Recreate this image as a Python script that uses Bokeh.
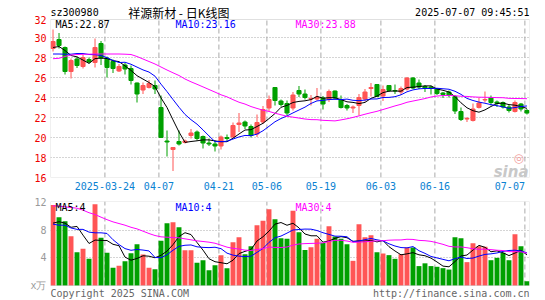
from bokeh.plotting import figure
from bokeh.layouts import column
from bokeh.models import FixedTicker, Label, Range1d, ColumnDataSource, BoxAnnotation
from bokeh.embed import file_html
from bokeh.resources import INLINE

# ---------------- data ----------------
opens = [28.9, 29.8, 29.0, 26.6, 27.85, 27.1, 27.8, 27.5, 29.4, 27.95,
         27.6, 26.65, 27.25, 26.9, 25.45, 24.75, 25.0, 25.2, 23.0, 19.65,
         18.8, 19.6, 19.5, 20.2, 20.55, 20.1, 19.45, 19.35, 19.15, 20.0,
         20.05, 21.3, 21.55, 21.1, 20.35, 21.55, 22.95, 25.0, 23.65, 23.4,
         22.95, 24.7, 24.35, 23.85, 23.85, 23.95, 23.8, 24.65, 23.8, 23.2,
         22.95, 23.2, 23.85, 24.9, 25.3, 24.15, 25.2, 24.7, 24.55, 24.85,
         25.95, 25.45, 25.1, 25.05, 24.85, 24.45, 24.55, 24.1, 22.6, 21.85,
         21.7, 23.0, 23.75, 23.95, 23.55, 23.5, 23.05, 22.6, 23.35, 22.7]
highs = [30.8, 30.45, 29.1, 27.9, 28.1, 28.25, 28.0, 29.9, 29.65, 28.1,
         27.8, 27.35, 27.45, 27.2, 25.5, 25.5, 25.75, 25.7, 24.2, 20.7,
         19.05, 20.7, 19.8, 20.85, 20.7, 20.2, 19.9, 19.7, 20.2, 20.3,
         21.5, 22.45, 21.7, 21.3, 22.3, 23.15, 24.2, 25.05, 23.8, 23.7,
         24.55, 25.15, 24.8, 24.25, 24.95, 24.15, 24.8, 24.7, 24.2, 23.35,
         23.2, 24.35, 24.85, 25.45, 25.35, 25.2, 25.25, 25.3, 25.1, 26.05,
         26.05, 25.8, 25.25, 25.2, 24.95, 24.55, 24.7, 24.25, 23.0, 22.05,
         23.4, 24.0, 24.6, 24.2, 23.7, 23.6, 23.25, 23.7, 23.45, 22.85]
lows = [28.6, 28.9, 26.3, 25.9, 26.95, 26.9, 27.4, 27.0, 27.25, 26.0,
        26.45, 26.55, 26.3, 25.3, 23.5, 24.35, 24.9, 24.35, 20.0, 18.1,
        16.65, 19.2, 19.4, 19.9, 19.7, 18.9, 19.15, 18.6, 18.8, 19.55,
        20.0, 20.55, 20.85, 20.0, 20.05, 21.35, 22.6, 23.2, 23.1, 22.2,
        22.7, 24.05, 23.8, 23.2, 23.7, 22.8, 23.55, 23.8, 22.9, 22.7,
        22.45, 22.2, 23.6, 24.1, 24.05, 23.65, 24.55, 24.35, 24.25, 24.7,
        24.85, 24.85, 24.55, 24.3, 24.25, 23.95, 24.0, 22.35, 21.65, 21.55,
        21.6, 22.9, 23.5, 23.2, 23.05, 22.9, 22.5, 22.5, 22.6, 22.3]
closes = [29.6, 29.2, 26.6, 27.7, 27.2, 28.0, 27.55, 29.0, 27.95, 27.0,
          26.9, 27.1, 26.85, 25.7, 24.35, 25.2, 25.4, 24.85, 20.0, 19.55,
          19.0, 19.35, 19.65, 20.45, 19.9, 19.45, 19.35, 19.15, 20.05, 19.9,
          21.2, 21.45, 21.15, 20.2, 21.5, 22.8, 23.8, 23.7, 23.3, 22.45,
          24.25, 24.35, 24.0, 23.9, 24.05, 23.35, 24.6, 23.95, 23.0, 22.95,
          23.05, 24.0, 24.55, 25.0, 24.1, 24.8, 24.7, 24.65, 24.9, 25.95,
          24.95, 25.05, 24.95, 24.9, 24.4, 24.3, 24.2, 22.65, 21.8, 21.9,
          22.85, 23.45, 23.8, 23.5, 23.4, 23.05, 22.7, 23.5, 22.85, 22.45]
volumes = [11.6, 9.86, 9.28, 7.1, 4.8, 5.29, 3.85, 11.73, 6.88, 4.71,
           2.55, 2.84, 3.5, 4.66, 5.96, 4.47, 2.55, 2.36, 6.44, 8.99,
           9.13, 8.41, 5.1, 5.1, 3.27, 3.65, 2.21, 2.93, 4.38, 2.5,
           6.25, 6.97, 4.52, 5.67, 8.7, 9.33, 11.0, 9.57, 6.83, 6.73,
           10.77, 7.69, 5.14, 5.53, 6.73, 6.15, 8.56, 7.07, 6.73, 5.96,
           3.56, 8.85, 6.97, 7.26, 4.8, 4.6, 4.38, 3.85, 4.52, 5.48,
           5.48, 2.8, 3.2, 2.8, 2.7, 2.5, 2.3, 6.97, 6.83, 3.37,
           6.1, 5.67, 5.58, 3.65, 3.99, 4.71, 3.65, 7.4, 5.67, 0.63]

# moving-average values at the left edge (they depend on days before the window)
ma5_head = [29.0, 29.1, 28.7, 28.2]
ma10_head = [28.35, 28.35, 28.33, 28.33, 28.4, 28.4, 28.3, 28.28, 28.2]
ma30_head = [27.88, 27.92, 28.1, 28.25, 28.3, 28.32, 28.33, 28.35, 28.35, 28.35,
             28.35, 28.35, 28.33, 28.3, 28.1, 27.85, 27.6, 27.35, 27.05, 26.75,
             26.47, 26.2, 25.85, 25.57, 25.32, 25.06, 24.8, 24.54, 24.27]
vma5_head = [9.0, 9.2, 9.0, 8.4]
vma10_head = [8.85, 8.7, 8.7, 8.3, 8.1, 8.1, 7.7, 7.6, 7.6]
vma30_head = [11.5, 11.45, 11.35, 11.25, 11.15, 10.87, 10.5, 10.24, 9.86, 9.5,
              9.18, 8.94, 8.7, 8.4, 8.17, 7.84, 7.5, 7.21, 7.02, 6.97,
              6.92, 6.88, 6.73, 6.59, 6.44, 6.35, 6.25, 6.1, 5.82]

date_idx = [9, 18, 28, 36, 45, 55, 64, 79]
date_labels = ["2025-03-24", "04-07", "04-21", "05-06", "05-19", "06-03", "06-16", "07-07"]
price_ticks = [16, 18, 20, 22, 24, 26, 28, 30]
price_top = 31.8
vol_ticks = [0, 4, 8, 12]
vol_top = 12.12

code_text = "sz300980"
title_text = "祥源新材 - 日K线图"
time_text = "2025-07-07 09:45:51"
ma_texts = ["MA5:22.87", "MA10:23.16", "MA30:23.88"]
vma_texts = ["MA5:4", "MA10:4", "MA30:4"]
ma_colors = ["#000000", "#0000FF", "#FF00FF"]

# ---------------- derived ----------------
RED, GREEN = "#FF5555", "#00A000"
MONO = "DejaVu Sans Mono"
GRIDC = "#AAAAAA"
BORDER = "#999999"

n = len(closes)
idx = list(range(n))
colors = [RED if c >= o else GREEN for o, c in zip(opens, closes)]


def rolling(vals, w, head):
    out = list(head)
    for i in range(len(head), len(vals)):
        out.append(sum(vals[i - w + 1:i + 1]) / w)
    return out


src = ColumnDataSource(dict(
    x=idx, h=highs, l=lows,
    top=[max(o, c) for o, c in zip(opens, closes)],
    bottom=[min(o, c) for o, c in zip(opens, closes)],
    color=colors, vol=volumes,
    ma5=rolling(closes, 5, ma5_head), ma10=rolling(closes, 10, ma10_head),
    ma30=rolling(closes, 30, ma30_head),
    vma5=rolling(volumes, 5, vma5_head), vma10=rolling(volumes, 10, vma10_head),
    vma30=rolling(volumes, 30, vma30_head),
))

dash_pos = [round(i - 0.35, 2) for i in date_idx]
label_pos = dash_pos[:-1] + [round(dash_pos[-1] - 2.5, 2)]
dash_src = ColumnDataSource(dict(x=dash_pos))

W = 545
xr = Range1d(-0.42, n - 1 + 0.42)


def lab(p, x, y, text, color="#000000", size="10px", font=MONO, align="left",
        baseline="middle", style="normal"):
    p.add_layout(Label(x=x, y=y, x_units="screen", y_units="screen", text=text,
                       text_color=color, text_font=font, text_font_size=size,
                       text_align=align, text_baseline=baseline,
                       text_font_style=style))


def style_common(p, y0, y1):
    p.outline_line_color = None
    p.background_fill_color = "white"
    p.border_fill_color = "white"
    for ax in p.axis:
        ax.axis_line_color = None
        ax.major_tick_line_color = None
        ax.minor_tick_line_color = None
        ax.major_tick_in = 0
        ax.major_tick_out = 0
        ax.minor_tick_in = 0
        ax.minor_tick_out = 0
        ax.major_label_text_font = MONO
        ax.major_label_text_font_size = "10px"
    p.xgrid.grid_line_color = None
    p.ygrid.grid_line_color = GRIDC
    p.ygrid.grid_line_dash = "1 2"
    # vertical dashed date lines, limited to the chart box
    p.segment(x0="x", y0=y0, x1="x", y1=y1, source=dash_src,
              line_color=GRIDC, line_dash="5 3", line_width=1)
    p.add_layout(BoxAnnotation(bottom=y0, top=y1, fill_color=None,
                               line_color=BORDER, line_width=1))


# ---------------- price figure ----------------
# frame extends up to the page top so the header row can be drawn inside it
pa = figure(width=W, height=195, x_range=xr, y_range=Range1d(16, 16 + 177 / 10.0),
            output_backend="svg", toolbar_location=None,
            min_border_left=50, min_border_right=16, min_border_top=0, min_border_bottom=18)
pa.yaxis.ticker = FixedTicker(ticks=price_ticks + [price_top])
pa.yaxis.major_label_overrides = {price_top: "32"}
pa.yaxis.major_label_text_color = "#EE0000"
pa.yaxis.major_label_standoff = 4
pa.xaxis.ticker = FixedTicker(ticks=label_pos)
pa.xaxis.major_label_overrides = {p: t for p, t in zip(label_pos, date_labels)}
pa.xaxis.major_label_text_color = "#0A82D2"
pa.xaxis.major_label_standoff = 4
style_common(pa, 16, price_top)
pa.ygrid.ticker = FixedTicker(ticks=price_ticks[1:])

pa.segment(x0="x", y0="l", x1="x", y1="h", color="color", line_width=1, source=src)
pa.vbar(x="x", width=0.68, top="top", bottom="bottom", fill_color="color",
        line_color="color", line_width=1, source=src)
pa.line("x", "ma5", color=ma_colors[0], line_width=1, source=src)
pa.line("x", "ma10", color=ma_colors[1], line_width=1, source=src)
pa.line("x", "ma30", color=ma_colors[2], line_width=1, source=src)

lab(pa, 0, 165.3, code_text)
lab(pa, 128.3, 165.3, title_text, font="Noto Sans CJK SC", size="12px", align="center")
lab(pa, 479, 165.3, time_text, align="right")
for xo, t, c in zip([5, 125, 245], ma_texts, ma_colors):
    lab(pa, xo, 152.7, t, color=c)
lab(pa, 463, 20, "◎", color="#F2A0A0", size="12px", font="DejaVu Sans")
lab(pa, 478, 6, "sina", color="#C8C8C8", size="15px", font="DejaVu Sans",
    align="right", baseline="alphabetic", style="bold italic")

# ---------------- volume figure ----------------
# frame extends down to the page bottom so the footer row can be drawn inside it
vscale = 84 / vol_top
pb = figure(width=W, height=105, x_range=xr, y_range=Range1d(-15 / vscale, vol_top),
            output_backend="svg", toolbar_location=None,
            min_border_left=50, min_border_right=16, min_border_top=6, min_border_bottom=0)
pb.xaxis.visible = False
pb.yaxis.ticker = FixedTicker(ticks=vol_ticks)
pb.yaxis.major_label_overrides = {0: "x万"}
pb.yaxis.major_label_text_color = "#999999"
pb.yaxis.major_label_standoff = 4
style_common(pb, 0, vol_top)
pb.ygrid.ticker = FixedTicker(ticks=vol_ticks[1:3])

pb.vbar(x="x", width=0.82, top="vol", bottom=0, fill_color="color", line_color=None, source=src)
pb.line("x", "vma5", color=ma_colors[0], line_width=1, source=src)
pb.line("x", "vma10", color=ma_colors[1], line_width=1, source=src)
pb.line("x", "vma30", color=ma_colors[2], line_width=1, source=src)

for xo, t, c in zip([5, 125, 245], vma_texts, ma_colors):
    lab(pb, xo, 93.3, t, color=c)
lab(pb, 0, 7.5, "Copyright 2025 SINA.COM", color="#666666")
lab(pb, 479, 7.5, "http://finance.sina.com.cn", color="#666666", align="right")

layout = column(pa, pb, spacing=0)
open("out.html", "w").write(file_html(layout, INLINE))
